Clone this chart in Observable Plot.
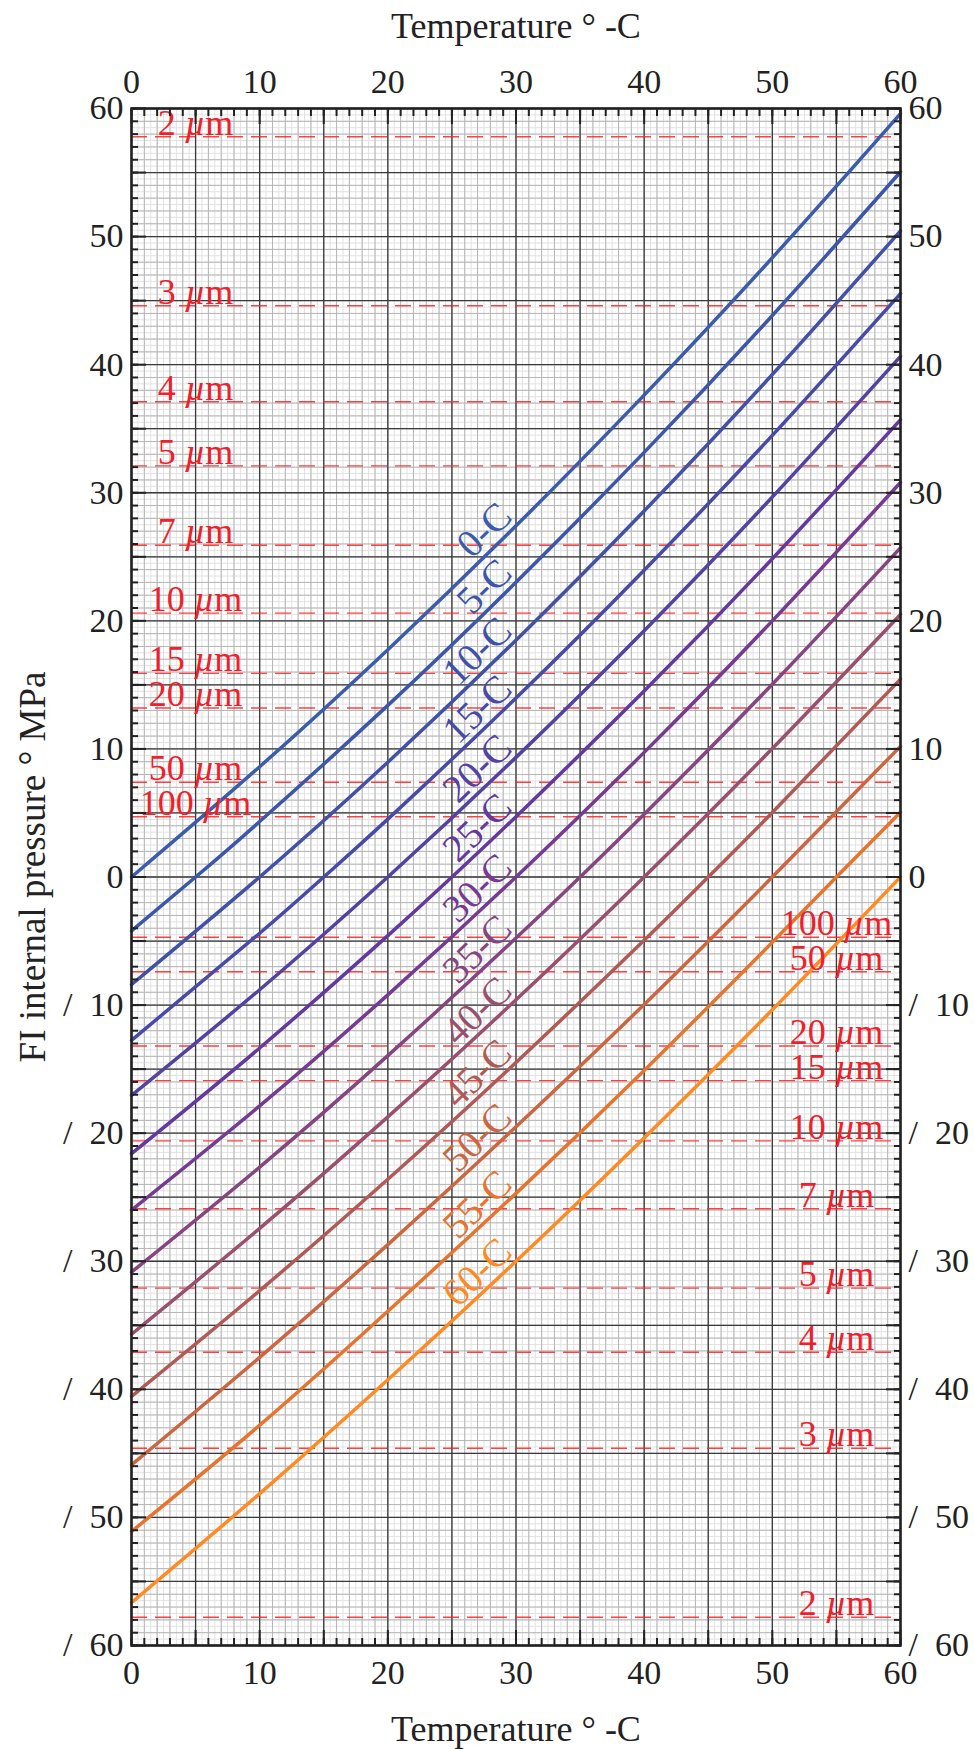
<!DOCTYPE html>
<html><head><meta charset="utf-8">
<script src="https://cdn.jsdelivr.net/npm/d3@7"></script>
<script src="https://cdn.jsdelivr.net/npm/@observablehq/plot@0.6"></script>
<style>html,body{margin:0;padding:0;background:#fff} svg{display:block}</style>
</head><body><div id="chart"></div>
<script>
// Temperatures (°C) at which each isotherm was read
const temps = [0, 10, 20, 30, 40, 50, 60];
// Homogenisation temperatures of the curves
const homogTemps = [0, 5, 10, 15, 20, 25, 30, 35, 40, 45, 50, 55, 60];
// FI internal pressure (MPa) read at temps for each curve
const th0  = [0, 8.61, 17.75, 27.42, 37.62, 48.35, 59.6];
const th5  = [-4.2, 4.33, 13.40, 23.01, 33.15, 43.84, 55.05];
const th10 = [-8.4, 0, 8.96, 18.49, 28.58, 39.23, 50.45];
const th15 = [-12.75, -4.39, 4.52, 13.97, 23.95, 34.48, 45.55];
const th20 = [-17.05, -8.80, 0, 9.34, 19.23, 29.67, 40.65];
const th25 = [-21.6, -13.35, -4.58, 4.71, 14.52, 24.85, 35.7];
const th30 = [-26.0, -17.87, -9.2, 0, 9.73, 20.0, 30.8];
const th35 = [-30.85, -22.65, -13.95, -4.77, 4.9, 15.05, 25.7];
const th40 = [-35.7, -27.44, -18.73, -9.59, 0, 10.03, 20.5];
const th45 = [-40.55, -32.29, -23.6, -14.48, -4.94, 5.04, 15.45];
const th50 = [-45.9, -37.5, -28.7, -19.5, -9.95, 0, 10.2];
const th55 = [-51.1, -42.8, -33.9, -24.7, -15.1, -5.1, 5.05];
const th60 = [-56.65, -48.14, -39.25, -30.0, -20.37, -10.37, 0];
const curveColors = ["#3b5bab", "#3c56aa", "#4151a8", "#474aa6", "#5442a3", "#63389f", "#763a93",
                     "#864481", "#9a4f6c", "#b05a56", "#cb6640", "#e6742e", "#ff8a22"];
// Bubble-size reference pressures (MPa)
const bubbleSizes = [2, 3, 4, 5, 7, 10, 15, 20, 50, 100];
const bubblePressures = [57.8, 44.6, 37.1, 32.1, 25.9, 20.6, 15.9, 13.2, 7.4, 4.7];
// Axis ticks
const xTickLabels = [0, 10, 20, 30, 40, 50, 60];
const yTickLabels = [60, 50, 40, 30, 20, 10, 0, -10, -20, -30, -40, -50, -60];

const series = [th0, th5, th10, th15, th20, th25, th30, th35, th40, th45, th50, th55, th60];

const rows = [];
const labelRows = [];
series.forEach((vals, i) => {
  const th = homogTemps[i];
  const pts = temps.map((t, j) => ({t, p: vals[j]}));
  if (!temps.includes(th)) pts.push({t: th, p: 0});
  pts.sort((a, b) => a.t - b.t);
  pts.forEach(d => rows.push({...d, th, color: curveColors[i]}));
  labelRows.push({th, t: temps[3], p: vals[3], color: curveColors[i]});
});

const bubbles = [];
bubbleSizes.forEach((s, i) => {
  bubbles.push({size: s, p: bubblePressures[i], side: "pos"});
  bubbles.push({size: s, p: -bubblePressures[i], side: "neg"});
});

const font = "Liberation Serif, Times New Roman, serif";
const fmtY = d => d < 0 ? `/\u00a0\u00a0${-d}` : `${d}`;
const range = (a, b, s) => d3.range(a, b + s / 2, s);
const ink = "#222";

const chart = Plot.plot({
  width: 975, height: 1749,
  marginLeft: 131, marginRight: 75, marginTop: 108, marginBottom: 104,
  x: {domain: [0, 60]},
  y: {domain: [-60, 60]},
  color: {type: "identity"},
  style: {fontFamily: font, fontSize: "34px", color: ink, background: "#fff"},
  marks: [
    Plot.gridX(range(0, 60, 0.5), {stroke: "#e2e2e2", strokeOpacity: 1, strokeWidth: 1}),
    Plot.gridY(range(-60, 60, 0.5), {stroke: "#e2e2e2", strokeOpacity: 1, strokeWidth: 1}),
    Plot.gridX(range(0, 60, 1), {stroke: "#b6b6b6", strokeOpacity: 1, strokeWidth: 1}),
    Plot.gridY(range(-60, 60, 1), {stroke: "#b6b6b6", strokeOpacity: 1, strokeWidth: 1}),
    Plot.gridX(range(0, 60, 5), {stroke: "#3a3a3a", strokeOpacity: 1, strokeWidth: 1.3}),
    Plot.gridY(range(-60, 60, 5), {stroke: "#3a3a3a", strokeOpacity: 1, strokeWidth: 1.3}),
    Plot.ruleY(bubbles, {y: "p", stroke: "#ff2020", strokeOpacity: 0.85, strokeWidth: 1.4, strokeDasharray: "16,8"}),
    Plot.line(rows, {x: "t", y: "p", z: "th", stroke: "color", strokeWidth: 3.5, curve: "natural"}),
    Plot.text(labelRows, {x: "t", y: "p", text: d => `${d.th}-C`, fill: "color", rotate: -44,
      textAnchor: "end", lineAnchor: "bottom", dx: -2, dy: -7, fontSize: 39, fontFamily: font}),
    Plot.text(bubbles.filter(d => d.side === "pos"), {y: "p", frameAnchor: "left", dx: 64, dy: -2,
      text: d => `${d.size} µm`, fill: "#f0202a", textAnchor: "middle", lineAnchor: "bottom",
      fontSize: 36, className: "bub"}),
    Plot.text(bubbles.filter(d => d.side === "neg"), {y: "p", frameAnchor: "right", dx: -64, dy: -2,
      text: d => `${d.size} µm`, fill: "#f0202a", textAnchor: "middle", lineAnchor: "bottom",
      fontSize: 36, className: "bub"}),
    Plot.frame({stroke: ink, strokeWidth: 2.6}),
    // inward ticks
    Plot.axisX({anchor: "bottom", ticks: range(0, 60, 1), tickSize: -7, fill: "none", stroke: ink, strokeWidth: 2, label: null}),
    Plot.axisX({anchor: "bottom", ticks: range(0, 60, 5), tickSize: -15, fill: "none", stroke: ink, strokeWidth: 2, label: null}),
    Plot.axisX({anchor: "top", ticks: range(0, 60, 1), tickSize: -7, fill: "none", stroke: ink, strokeWidth: 2, label: null}),
    Plot.axisX({anchor: "top", ticks: range(0, 60, 5), tickSize: -15, fill: "none", stroke: ink, strokeWidth: 2, label: null}),
    Plot.axisY({anchor: "left", ticks: range(-60, 60, 1), tickSize: -7, fill: "none", stroke: ink, strokeWidth: 2, label: null}),
    Plot.axisY({anchor: "left", ticks: range(-60, 60, 5), tickSize: -15, fill: "none", stroke: ink, strokeWidth: 2, label: null}),
    Plot.axisY({anchor: "right", ticks: range(-60, 60, 1), tickSize: -7, fill: "none", stroke: ink, strokeWidth: 2, label: null}),
    Plot.axisY({anchor: "right", ticks: range(-60, 60, 5), tickSize: -15, fill: "none", stroke: ink, strokeWidth: 2, label: null}),
    // tick labels
    Plot.axisX({anchor: "top", ticks: xTickLabels, tickSize: 0, tickPadding: 16, fontSize: 34, label: null}),
    Plot.axisX({anchor: "bottom", ticks: xTickLabels, tickSize: 0, tickPadding: 14, fontSize: 34, label: null}),
    Plot.axisY({anchor: "left", ticks: yTickLabels, tickSize: 0, tickPadding: 8, tickFormat: fmtY, fontSize: 34, label: null}),
    Plot.axisY({anchor: "right", ticks: yTickLabels, tickSize: 0, tickPadding: 8, tickFormat: fmtY, fontSize: 34, label: null}),
    // axis titles
    Plot.text(["Temperature ° -C"], {frameAnchor: "top", dy: -71, lineAnchor: "bottom", fontSize: 36, fill: ink}),
    Plot.text(["Temperature ° -C"], {frameAnchor: "bottom", dy: 95, lineAnchor: "bottom", fontSize: 36, fill: ink}),
    Plot.text(["FI internal pressure ° MPa"], {frameAnchor: "left", textAnchor: "middle", dx: -87, dy: -10, rotate: -90,
      lineAnchor: "bottom", fontSize: 37, fill: ink})
  ]
});

d3.select(chart).selectAll("g.bub text").each(function() {
  const t = this.textContent;
  const n = t.split(" ")[0];
  const sel = d3.select(this);
  sel.text(null);
  sel.append("tspan").text(n + " ");
  sel.append("tspan").attr("font-style", "italic").text("µ");
  sel.append("tspan").text("m");
});

document.getElementById("chart").appendChild(chart);
</script>
</body></html>
